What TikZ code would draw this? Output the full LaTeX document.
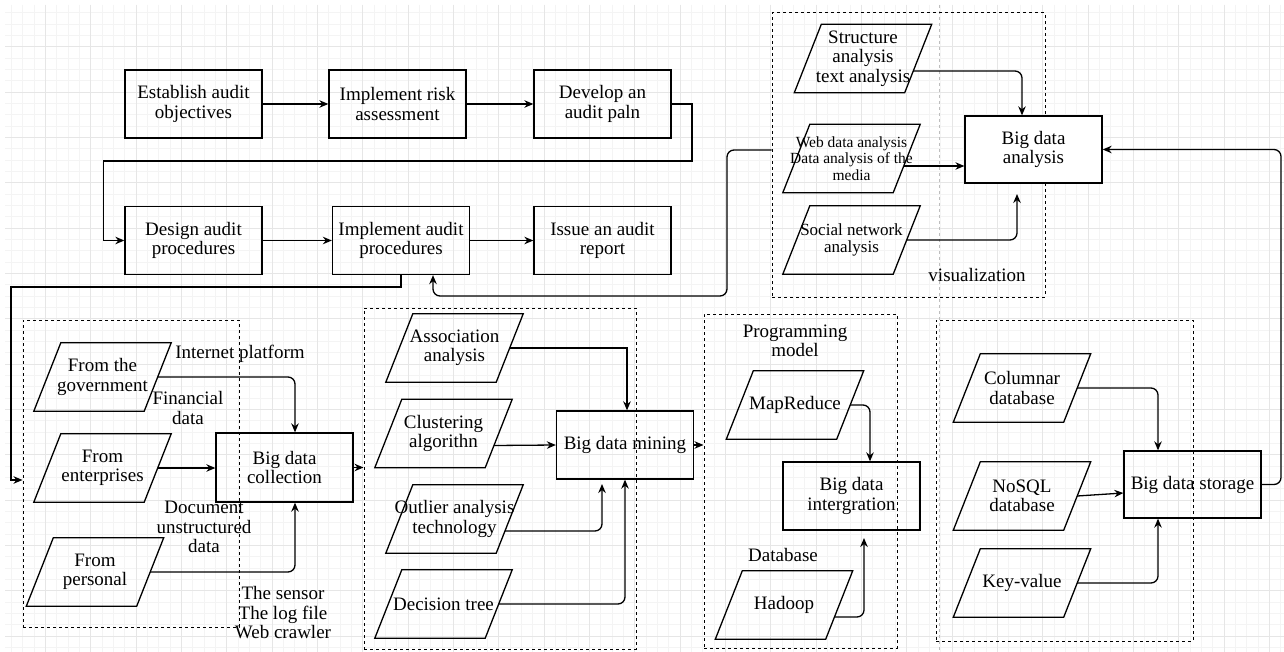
\documentclass[tikz,border=0pt]{standalone}
\usepackage{fontspec}
\setmainfont{Liberation Serif}
\usetikzlibrary{arrows.meta}
\newcommand\mainf{\fontsize{19}{19.5}\selectfont}
\newcommand\webf{\fontsize{15.5}{16.3}\selectfont}
\newcommand\socf{\fontsize{17}{17.3}\selectfont}
\definecolor{gridminor}{RGB}{244,244,244}
\definecolor{gridmajor}{RGB}{230,230,230}
\definecolor{vguide}{RGB}{190,190,190}
\begin{document}
\begin{tikzpicture}[x=1pt,y=-1pt,
  box/.style={draw, line width=1.3pt, minimum width=137pt, minimum height=68pt, inner sep=0pt, align=center, font=\mainf},
  para/.style={minimum width=110pt, minimum height=68pt, inner sep=0pt, align=center, font=\mainf,
    append after command={\pgfextra{\draw[line width=1.3pt]
      ([xshift=-13.5pt]\tikzlastnode.south west) -- ([xshift=-13.5pt]\tikzlastnode.south east) --
      ([xshift=13.5pt]\tikzlastnode.north east) -- ([xshift=13.5pt]\tikzlastnode.north west) -- cycle;}}},
  grp/.style={draw, dash pattern=on 3pt off 3pt, line width=1pt, inner sep=0pt},
  lbl/.style={inner sep=0pt, align=center, font=\mainf},
  conn/.style={line width=1.3pt, -{Stealth[length=9pt,width=7.5pt]}},
  rc/.style={rounded corners=7pt}]
\useasboundingbox (0,0) rectangle (1284,652);
\fill[white] (0,0) rectangle (1284,652);
% grid
\foreach \i in {1,...,113} {\draw[gridminor, line width=0.8pt] (\i*11.333,5) -- (\i*11.333,652);}
\foreach \j in {1,...,57} {\draw[gridminor, line width=0.8pt] (5,1.5+\j*11.333) -- (1284,1.5+\j*11.333);}
\foreach \i in {1,...,28} {\draw[gridmajor, line width=0.8pt] (\i*45.333,5) -- (\i*45.333,652);}
\foreach \j in {1,...,14} {\draw[gridmajor, line width=0.8pt] (5,1.5+\j*45.333) -- (1284,1.5+\j*45.333);}
\draw[vguide, dash pattern=on 3pt off 3pt, line width=0.8pt] (939,5) -- (939,652);

% group boxes
\node[grp, minimum width=273pt, minimum height=284pt] (gana) at (908.5,155) {};
\node[grp, minimum width=216pt, minimum height=307pt] (gcol) at (131,473.5) {};
\node[grp, minimum width=272pt, minimum height=341pt] (gmin) at (500,478.5) {};
\node[grp, minimum width=193pt, minimum height=334pt] (gint) at (800.5,481) {};
\node[grp, minimum width=257pt, minimum height=321pt] (gsto) at (1064.5,480.5) {};

% top process
\node[box] (est) at (193.5,104) {Establish audit\\objectives};
\node[box] (risk) at (397.5,104) {Implement risk\\assessment};
\node[box] (plan) at (602.5,104) {Develop an\\audit paln};
\node[box] (design) at (193.5,240.5) {Design audit\\procedures};
\node[box] (impl) at (401,240.5) {Implement audit\\procedures};
\node[box] (issue) at (602.5,240.5) {Issue an audit\\report};

% analysis group
\node[para] (struct) at (863,58.5) {Structure\\analysis\\text analysis};
\node[para, font=\webf] (web) at (851.5,158.5) {\makebox[0pt]{Web data analysis}\\\makebox[0pt]{Data analysis of the}\\media};
\node[para, font=\socf] (social) at (851.5,240) {Social network\\analysis};
\node[box, fill=white, minimum height=67pt] (bda) at (1033.5,149.5) {Big data\\analysis};
\node[lbl] (lvis) at (977,275) {visualization};
\coordinate (socend) at (1017,194);

% collection group
\node[para] (gov) at (102.5,377) {From the\\government};
\node[para] (ent) at (102.5,468) {From\\enterprises};
\node[para] (per) at (95,572) {From\\personal};
\node[box, minimum height=69pt] (col) at (284.5,467.5) {Big data\\collection};
\node[lbl] (lip) at (240,354) {Internet platform};
\node[lbl] (lfd) at (188,408) {Financial\\data};
\node[lbl] (ldoc) at (204,527) {Document\\unstructured\\data};
\node[lbl] (lsen) at (283,613) {The sensor\\The log file\\Web crawler};

% mining group
\node[para] (assoc) at (454.5,348) {Association\\analysis};
\node[para] (clus) at (443.5,433.5) {Clustering\\algorithn};
\node[para] (outl) at (454.5,519) {\makebox[0pt]{Outlier analysis}\\technology};
\node[para] (dec) at (443.5,604) {Decision tree};
\node[box] (bdm) at (625,445) {Big data mining};
\coordinate (outend) at (602,484);

% integration group
\node[lbl] (lpm) at (795,341) {Programming\\model};
\node[para] (mapr) at (795,405) {MapReduce};
\node[box] (bdi) at (851.5,496) {Big data\\intergration};
\node[lbl] (ldb) at (783,555) {Database};
\node[para] (hadoop) at (784,605) {Hadoop};
\coordinate (hadend) at (864,538);

% storage group
\node[para] (colm) at (1022,388) {Columnar\\database};
\node[para] (nosql) at (1022,496) {NoSQL\\database};
\node[para] (kv) at (1022,583) {Key-value};
\node[box, minimum height=67pt] (bds) at (1192.5,484.5) {Big data storage};

% connectors: top process
\draw[conn] (est.east) -- (risk.west);
\draw[conn] (risk.east) -- (plan.west);
\draw[conn] (plan.east) -- (692,104) -- (692,161) -| ([xshift=-21pt]design.west) -- (design.west);
\draw[conn] (design.east) -- (impl.west);
\draw[conn] (impl.east) -- (issue.west);
\draw[conn] (impl.south) -- (impl.south |- 0,287) -| (11,480) -- (gcol.west |- 0,480);
\draw[conn,rc] (gana.west |- 0,150) -| (727,296) -| (impl.south -| 433,0);

% analysis
\draw[conn,rc] ([xshift=-5pt,yshift=-12.5pt]struct.east) -| (bda.north -| 1022,0);
\draw[conn] ([xshift=-3pt,yshift=-7.5pt]web.east) -- (bda.west |- 0,166);
\draw[conn,rc] (social.east) -| (socend);
\draw[conn,rc] (bds.east) -| (bda.east -| 1281,0) -- (bda.east);

% collection
\draw[conn,rc] (gov.east) -| (col.north -| 295,0);
\draw[conn] (ent.east) -- (col.west |- ent.east);
\draw[conn,rc] (per.east) -| (col.south -| 295,0);
\draw[conn] (col.east) -- (col.east -| gmin.west);

% mining
\draw[conn] (assoc.east) -| (bdm.north -| 627,0);
\draw[conn] ([xshift=-4.8pt,yshift=-12pt]clus.east) -- (bdm.west);
\draw[conn,rc] ([xshift=-4.8pt,yshift=-12pt]outl.east) -| (outend);
\draw[conn,rc] (dec.east) -| (bdm.south -| 625,0);
\draw[conn] (bdm.east) -- (bdm.east -| gint.west);

% integration
\draw[conn,rc] (mapr.east) -| (bdi.north -| 870,0);
\draw[conn,rc] ([xshift=-4.8pt,yshift=-12pt]hadoop.east) -| (hadend);

% storage
\draw[conn,rc] (colm.east) -| (bds.north -| 1158,0);
\draw[conn] (nosql.east) -- (bds.west |- 0,493);
\draw[conn,rc] (kv.east) -| (bds.south -| 1158,0);
\end{tikzpicture}
\end{document}
